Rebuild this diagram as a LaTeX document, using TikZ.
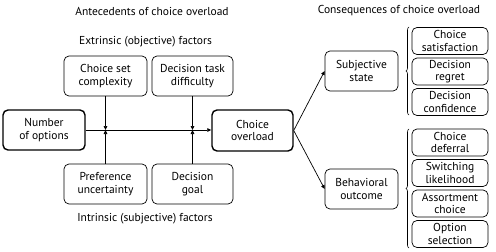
\documentclass[tikz,border=0pt]{standalone}
\usepackage{fontspec}
\setmainfont{PT Sans}
\usetikzlibrary{arrows.meta,decorations.pathreplacing}
\begin{document}
\begin{tikzpicture}[x=1pt,y=-1pt,
  every node/.style={font=\fontsize{11.5}{12.5}\selectfont},
  box/.style={draw,rounded corners=5pt,align=center,inner sep=0pt,line width=0.7pt},
  mainbox/.style={box,line width=1.4pt},
  conbox/.style={box,minimum width=76pt,minimum height=27pt},
  lbl/.style={inner sep=0pt,font=\fontsize{11.5}{12.5}\selectfont},
  arr/.style={-{Triangle[length=4pt,width=3.6pt]},line width=0.7pt},
  brc/.style={decorate,decoration={brace,amplitude=3pt},line width=0.6pt}]
\useasboundingbox (0,0) rectangle (496,252);
\node[lbl] (tA) at (152,11) {Antecedents of choice overload};
\node[lbl] (tC) at (399,11) {Consequences of choice overload};
\node[lbl] (tE) at (145.5,42) {Extrinsic (objective) factors};
\node[lbl] (tI) at (145,219) {Intrinsic (subjective) factors};
\node[mainbox,minimum width=82pt,minimum height=40pt] (num) at (44,130) {Number\\of options};
\node[mainbox,minimum width=81pt,minimum height=41pt] (co) at (252.5,130.5) {Choice\\overload};
\node[box,minimum width=83pt,minimum height=40pt] (csc) at (105.5,76) {Choice set\\complexity};
\node[box,minimum width=81pt,minimum height=40pt] (dtd) at (192.5,76) {Decision task\\difficulty};
\node[box,minimum width=83pt,minimum height=40pt] (pu) at (105.5,184) {Preference\\uncertainty};
\node[box,minimum width=81pt,minimum height=40pt] (dg) at (192.5,184) {Decision\\goal};
\node[box,minimum width=73pt,minimum height=40pt] (ss) at (361.5,71) {Subjective\\state};
\node[box,minimum width=73pt,minimum height=40pt] (bo) at (361.5,189) {Behavioral\\outcome};
\node[conbox] (cs) at (450,41) {Choice\\satisfaction};
\node[conbox] (dr) at (450,71.5) {Decision\\regret};
\node[conbox] (dc) at (450,102) {Decision\\confidence};
\node[conbox] (cd) at (450,142.5) {Choice\\deferral};
\node[conbox] (sl) at (450,173) {Switching\\likelihood};
\node[conbox] (ac) at (450,203.5) {Assortment\\choice};
\node[conbox] (os) at (450,234) {Option\\selection};
\coordinate (j1) at (csc.south |- num.east);
\coordinate (j2) at (dtd.south |- num.east);
\draw[arr] (num.east) -- (co.west |- num.east);
\draw[arr] (csc.south) -- (j1);
\draw[arr] (pu.north) -- (j1);
\draw[arr] (dtd.south) -- (j2);
\draw[arr] (dg.north) -- (j2);
\draw[arr] (co.east) -- (ss.west);
\draw[arr] (co.east) -- (bo.west);
\coordinate (b1t) at (409,27);
\coordinate (b1b) at (409,115);
\coordinate (b2t) at (409,129);
\coordinate (b2b) at (409,248);
\draw[brc] (b1b) -- (b1t);
\draw[brc] (b2b) -- (b2t);
\end{tikzpicture}
\end{document}
